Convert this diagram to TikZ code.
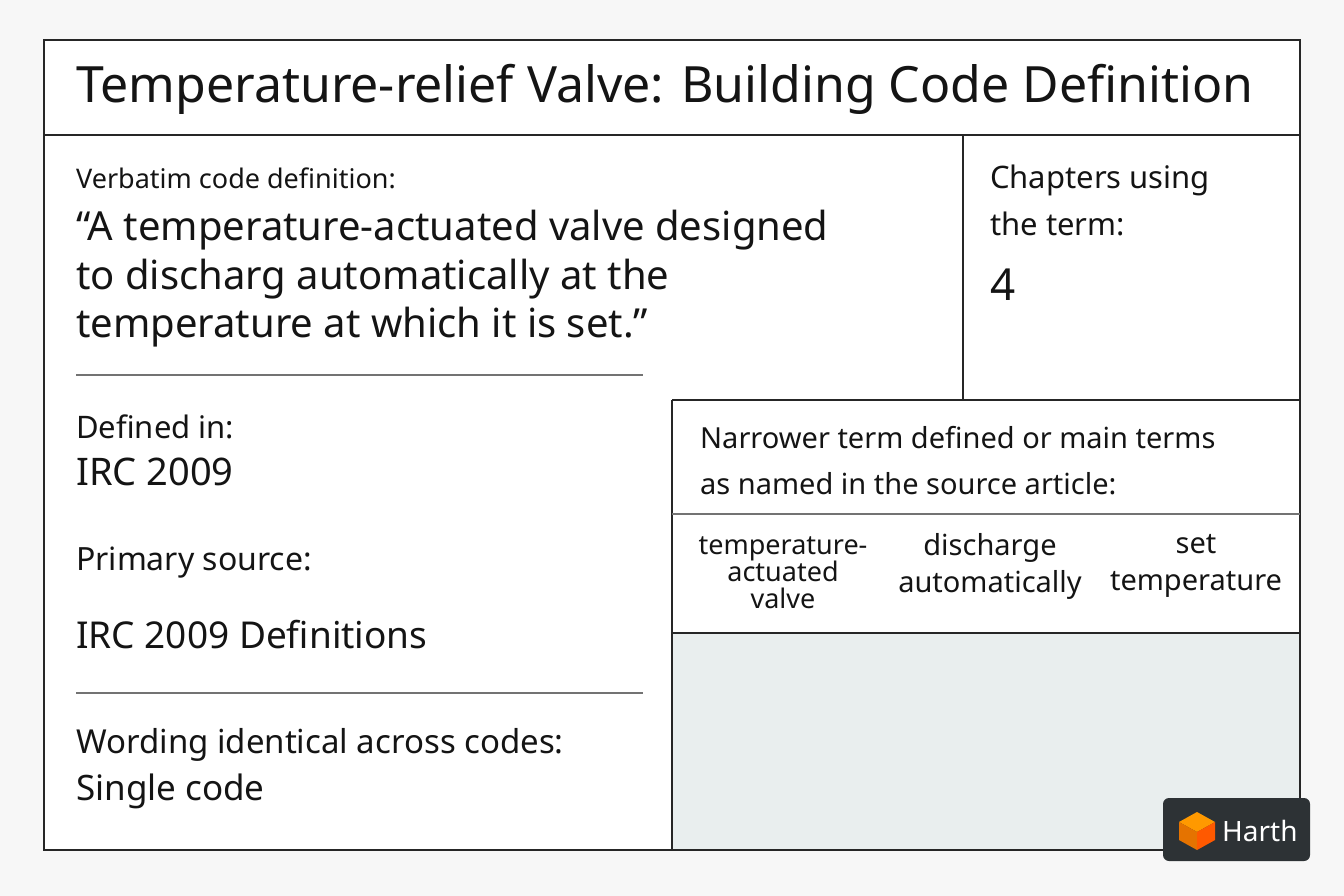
\documentclass[tikz,border=0pt]{standalone}
\usepackage{fontspec}
\setmainfont{Noto Sans}
\begin{document}
\begin{tikzpicture}[x=1pt,y=-1pt,
  frame/.style={draw=black!85,line width=1.6pt},
  sep/.style={draw=black!55,line width=1.3pt},
  t/.style={anchor=west,inner sep=0pt,text=black!92},
  fs/.style={font=\fontsize{#1}{#1}\selectfont}]
\useasboundingbox (0,0) rectangle (1344,896);
\fill[white!97!black] (0,0) rectangle (1344,896);
\fill[white] (44,40) rectangle (1300,850);
\fill[fill={rgb,255:red,233;green,238;blue,238}] (672,633) rectangle (1300,850);
\draw[frame] (44,40) rectangle (1300,850);
\draw[frame] (44,135) -- (1300,135);
\draw[frame] (963,135) -- (963,400);
\draw[frame] (672,400) -- (1300,400);
\draw[frame] (672,400) -- (672,850);
\draw[sep] (672,514) -- (1300,514);
\draw[frame] (672,633) -- (1300,633);
\draw[sep] (76,375) -- (643,375);
\draw[sep] (76,693) -- (643,693);
\node[t,fs=50] (title) at (76,89) {Temperature-relief Valve: Building Code Definition};
\node[t,fs=27] (vl) at (76,178) {Verbatim code definition:};
\node[t,fs=40] (q1) at (76,230) {“A temperature-actuated valve designed};
\node[t,fs=40] (q2) at (76,279) {to discharg automatically at the};
\node[t,fs=40] (q3) at (76,327) {temperature at which it is set.”};
\node[t,fs=31] (c1) at (990,180) {Chapters using};
\node[t,fs=31] (c2) at (990,224) {the term:};
\node[t,fs=44] (c3) at (990,285) {4};
\node[t,fs=31] (d1) at (76,427) {Defined in:};
\node[t,fs=38] (d2) at (76,472) {IRC 2009};
\node[t,fs=32] (p1) at (76,563) {Primary source:};
\node[t,fs=37] (p2) at (76,635) {IRC 2009 Definitions};
\node[t,fs=33] (w1) at (76,745) {Wording identical across codes:};
\node[t,fs=35] (w2) at (76,791) {Single code};
\node[t,fs=29] (n1) at (700,438) {Narrower term defined or main terms};
\node[t,fs=29] (n2) at (700,484) {as named in the source article:};
\node[inner sep=0pt,align=center,text=black!92,font=\fontsize{27}{27}\selectfont] (k1) at (783,573) {temperature-\\actuated\\valve};
\node[inner sep=0pt,align=center,text=black!92,font=\fontsize{29}{37}\selectfont] (k2) at (990,566) {discharge\\automatically};
\node[inner sep=0pt,align=center,text=black!92,font=\fontsize{29}{37}\selectfont] (k3) at (1196,566) {set\\temperature};
\fill[rounded corners=6pt,fill={rgb,255:red,45;green,50;blue,53}] (1163,798) rectangle (1310,861);
\fill[orange!80!yellow] (1197,812) -- (1215,822) -- (1197,832) -- (1179,822) -- cycle;
\fill[orange!90!black] (1179,822) -- (1197,832) -- (1197,850) -- (1179,840) -- cycle;
\fill[orange!70!red] (1215,822) -- (1197,832) -- (1197,850) -- (1215,840) -- cycle;
\node[t,text=white,fs=28] (logo) at (1222,831) {Harth};
\end{tikzpicture}
\end{document}
